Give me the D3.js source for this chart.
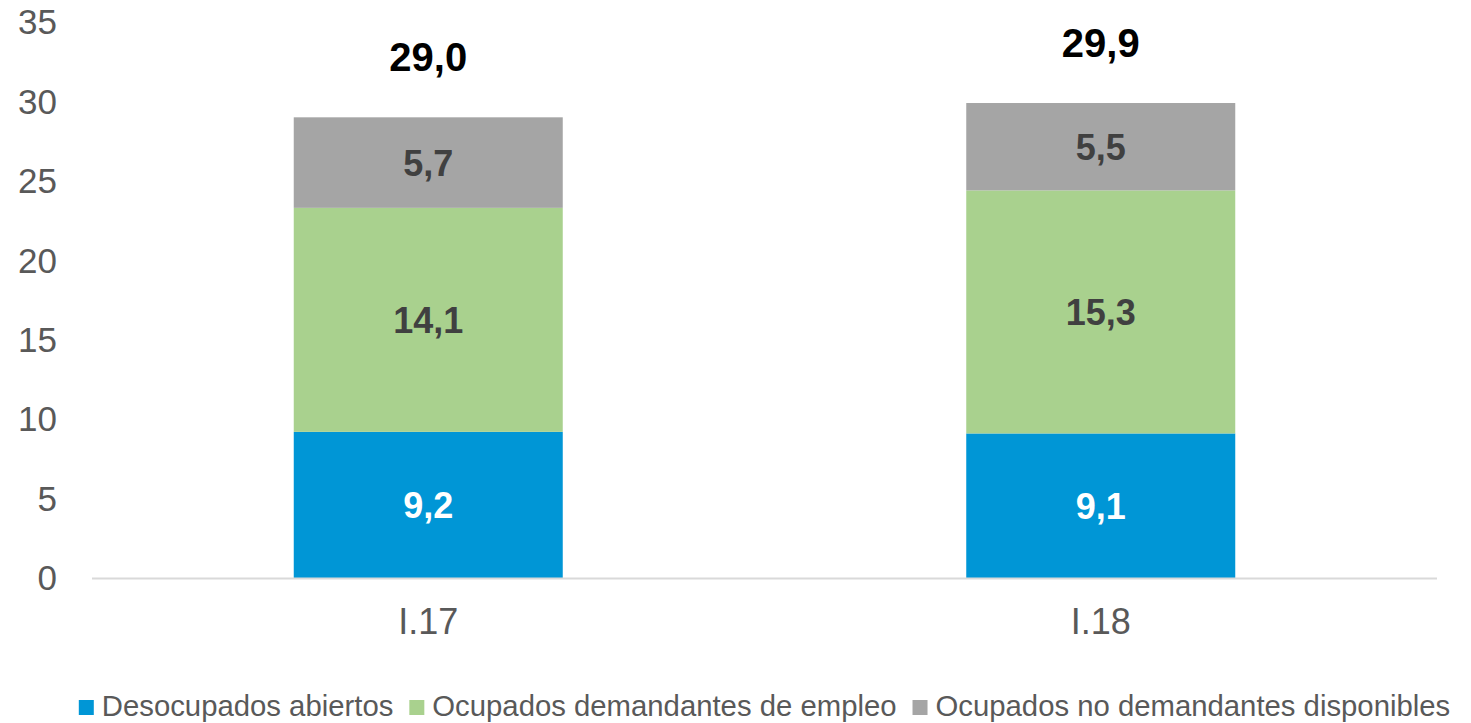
<!DOCTYPE html>
<html>
<head>
<meta charset="utf-8">
<script src="https://cdn.jsdelivr.net/npm/d3@7"></script>
<style>
  body { margin: 0; background: #fff; }
  svg { display: block; font-family: "Liberation Sans", Arial, sans-serif; }
</style>
</head>
<body>
<div id="chart"></div>
<script>
var categories = ["I.17", "I.18"];
var seriesNames = ["Desocupados abiertos", "Ocupados demandantes de empleo", "Ocupados no demandantes disponibles"];
var desocupados = [9.2, 9.1];
var demandantes = [14.1, 15.3];
var noDemandantes = [5.7, 5.5];
var totals = [29.0, 29.9];
var yTicks = [0, 5, 10, 15, 20, 25, 30, 35];

var colors = ["#0096d6", "#a9d18e", "#a5a5a5"];
var labelColors = ["#ffffff", "#404040", "#404040"];

var W = 1471, H = 723;
var margin = {top: 22, right: 34, bottom: 145, left: 92};
var width = W - margin.left - margin.right,
    height = H - margin.top - margin.bottom;

var svg = d3.select("#chart").append("svg").attr("width", W).attr("height", H),
    g = svg.append("g").attr("transform", "translate(" + margin.left + "," + margin.top + ")");

var x = d3.scaleBand().domain(categories).range([0, width]).padding(0);
var barW = x.bandwidth() * 0.4;
var y = d3.scaleLinear().domain([0, 35]).range([height, 0]);

// stacked data
var rows = categories.map(function(c, i) {
    return {cat: c, s0: desocupados[i], s1: demandantes[i], s2: noDemandantes[i], total: totals[i]};
});
var stack = d3.stack().keys(["s0", "s1", "s2"]);
var layers = stack(rows);

// y axis labels
g.append("g")
    .selectAll("text")
    .data(yTicks)
    .enter().append("text")
    .attr("x", -35)
    .attr("y", function(d) { return y(d); })
    .attr("dy", "0.35em")
    .attr("text-anchor", "end")
    .attr("fill", "#595959")
    .attr("font-size", 35)
    .text(function(d) { return d; });

// bars
var layer = g.selectAll(".layer")
    .data(layers)
    .enter().append("g")
    .attr("class", "layer")
    .attr("fill", function(d, i) { return colors[i]; });

layer.selectAll("rect")
    .data(function(d) { return d; })
    .enter().append("rect")
    .attr("x", function(d) { return x(d.data.cat) + (x.bandwidth() - barW) / 2; })
    .attr("y", function(d) { return y(d[1]); })
    .attr("width", barW)
    .attr("height", function(d) { return y(d[0]) - y(d[1]); });

// segment labels
layers.forEach(function(l, i) {
    g.append("g")
        .selectAll("text")
        .data(l)
        .enter().append("text")
        .attr("x", function(d) { return x(d.data.cat) + x.bandwidth() / 2; })
        .attr("y", function(d) { return (y(d[0]) + y(d[1])) / 2; })
        .attr("dy", "0.36em")
        .attr("text-anchor", "middle")
        .attr("font-size", 36)
        .attr("font-weight", "bold")
        .attr("fill", labelColors[i])
        .text(function(d) { return d3.format(".1f")(d[1] - d[0]).replace(".", ","); });
});

// totals
g.append("g")
    .selectAll("text")
    .data(rows)
    .enter().append("text")
    .attr("x", function(d) { return x(d.cat) + x.bandwidth() / 2; })
    .attr("y", function(d) { return y(d.total) - 46; })
    .attr("text-anchor", "middle")
    .attr("font-size", 40)
    .attr("font-weight", "bold")
    .attr("fill", "#000")
    .text(function(d) { return d3.format(".1f")(d.total).replace(".", ","); });

// baseline
g.append("line")
    .attr("x1", 0).attr("x2", width)
    .attr("y1", y(0) + 0.5).attr("y2", y(0) + 0.5)
    .attr("stroke", "#d9d9d9")
    .attr("stroke-width", 2);

// category labels
g.append("g")
    .selectAll("text")
    .data(categories)
    .enter().append("text")
    .attr("x", function(d) { return x(d) + x.bandwidth() / 2; })
    .attr("y", height + 56)
    .attr("text-anchor", "middle")
    .attr("fill", "#595959")
    .attr("font-size", 36)
    .text(function(d) { return d; });

// legend
var legend = svg.append("g");
var items = legend.selectAll("g")
    .data(seriesNames)
    .enter().append("g");
items.append("rect")
    .attr("width", 15).attr("height", 15)
    .attr("y", 700)
    .attr("fill", function(d, i) { return colors[i]; });
items.append("text")
    .attr("x", 23)
    .attr("y", 716)
    .attr("fill", "#595959")
    .attr("font-size", 29.3)
    .text(function(d) { return d; });

var pos = 0, offsets = [];
items.each(function() {
    offsets.push(pos);
    pos += 23 + d3.select(this).select("text").node().getComputedTextLength() + 16;
});
var total = pos - 16;
var startX = margin.left + width / 2 - total / 2;
items.attr("transform", function(d, i) { return "translate(" + (startX + offsets[i]) + ",0)"; });
</script>
</body>
</html>
